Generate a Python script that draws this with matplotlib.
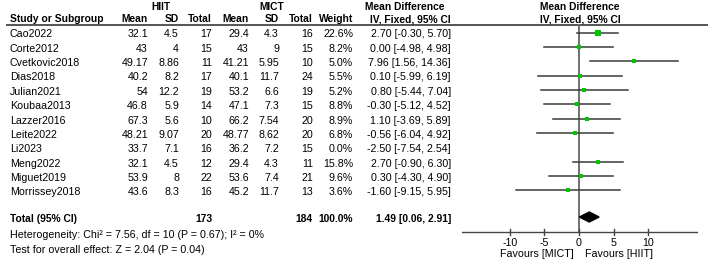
import matplotlib.pyplot as plt

plt.rcParams['font.family'] = ['Liberation Sans', 'DejaVu Sans']

# data
studies = ["Cao2022", "Corte2012", "Cvetkovic2018", "Dias2018", "Julian2021", "Koubaa2013",
           "Lazzer2016", "Leite2022", "Li2023", "Meng2022", "Miguet2019", "Morrissey2018"]
hiit_mean = ["32.1", "43", "49.17", "40.2", "54", "46.8", "67.3", "48.21", "33.7", "32.1", "53.9", "43.6"]
hiit_sd = ["4.5", "4", "8.86", "8.2", "12.2", "5.9", "5.6", "9.07", "7.1", "4.5", "8", "8.3"]
hiit_n = [17, 15, 11, 17, 19, 14, 10, 20, 16, 12, 22, 16]
mict_mean = ["29.4", "43", "41.21", "40.1", "53.2", "47.1", "66.2", "48.77", "36.2", "29.4", "53.6", "45.2"]
mict_sd = ["4.3", "9", "5.95", "11.7", "6.6", "7.3", "7.54", "8.62", "7.2", "4.3", "7.4", "11.7"]
mict_n = [16, 15, 10, 24, 19, 15, 20, 20, 15, 11, 21, 13]
weight = [22.6, 8.2, 5.0, 5.5, 5.2, 8.8, 8.9, 6.8, 0.0, 15.8, 9.6, 3.6]
md = [2.70, 0.00, 7.96, 0.10, 0.80, -0.30, 1.10, -0.56, -2.50, 2.70, 0.30, -1.60]
lo = [-0.30, -4.98, 1.56, -5.99, -5.44, -5.12, -3.69, -6.04, -7.54, -0.90, -4.30, -9.15]
hi = [5.70, 4.98, 14.36, 6.19, 7.04, 4.52, 5.89, 4.92, 2.54, 6.30, 4.90, 5.95]

total_md, total_lo, total_hi = 1.49, 0.06, 2.91
total_hiit, total_mict = 173, 184
hetero = "Heterogeneity: Chi\u00b2 = 7.56, df = 10 (P = 0.67); I\u00b2 = 0%"
overall = "Test for overall effect: Z = 2.04 (P = 0.04)"
ticks = [-10, -5, 0, 5, 10]

W, H = 708, 262
fig = plt.figure(figsize=(W / 100, H / 100), dpi=100)

# text layer in pixel coordinates
tx = fig.add_axes([0, 0, 1, 1])
tx.set_xlim(0, W)
tx.set_ylim(H, 0)
tx.axis('off')

# forest panel, x in mean difference units, y in pixels
ax = fig.add_axes([462 / W, 0, 236 / W, 1])
ax.set_xlim(-16.9, 17.2)
ax.set_ylim(H, 0)
ax.axis('off')

fs = 7.7
fsb = 7.4
row0, step = 32.6, 14.35
total_y = 217
axis_y = 232

def t(x, y, s, ha='right', bold=False):
    tx.text(x, y, s, ha=ha, va='baseline', fontsize=fsb if bold else fs,
            fontweight='bold' if bold else 'normal', color='black')

# headers
t(161, 9.5, "HIIT", ha='center', bold=True)
t(272, 9.5, "MICT", ha='center', bold=True)
t(405, 9.5, "Mean Difference", ha='center', bold=True)
t(580, 9.5, "Mean Difference", ha='center', bold=True)
hy = 22.5
t(10, hy, "Study or Subgroup", ha='left', bold=True)
for x, s in [(148, "Mean"), (179, "SD"), (212, "Total"), (249, "Mean"),
             (279, "SD"), (313, "Total"), (353, "Weight"), (451, "IV, Fixed, 95% CI")]:
    t(x, hy, s, bold=True)
t(580, hy, "IV, Fixed, 95% CI", ha='center', bold=True)
tx.plot([6, W], [25, 25], color='#555555', lw=1.4, solid_capstyle='butt')

# study rows
for i, name in enumerate(studies):
    y = row0 + i * step
    b = y + 4.8
    t(10, b, name, ha='left')
    t(148, b, hiit_mean[i])
    t(179, b, hiit_sd[i])
    t(212, b, str(hiit_n[i]))
    t(249, b, mict_mean[i])
    t(279, b, mict_sd[i])
    t(313, b, str(mict_n[i]))
    t(353, b, "%.1f%%" % weight[i])
    t(451, b, "%.2f [%.2f, %.2f]" % (md[i], lo[i], hi[i]))
    if weight[i] > 0:
        ax.plot([lo[i], hi[i]], [y, y], color='#3a3a3a', lw=1.1, zorder=2)
        side_px = max(3.4, 1.1 * weight[i] ** 0.5)
        ax.plot(md[i], y, marker='s', color='#00c800', mew=0,
                ms=side_px * 0.72, zorder=3)

# total row
b = total_y + 5.3
t(10, b, "Total (95% CI)", ha='left', bold=True)
t(212, b, str(total_hiit), bold=True)
t(313, b, str(total_mict), bold=True)
t(353, b, "100.0%", bold=True)
t(451, b, "%.2f [%.2f, %.2f]" % (total_md, total_lo, total_hi), bold=True)
ax.fill([total_lo, total_md, total_hi, total_md],
        [total_y, total_y - 5, total_y, total_y + 5], color='black', zorder=3)
t(10, 238.5, hetero, ha='left')
t(10, 252.7, overall, ha='left')

# zero line and axis
ax.plot([0, 0], [25, axis_y], color='#707070', lw=1.4, zorder=1)
ax.plot([-16.9, 17.2], [axis_y, axis_y], color='#444444', lw=1.0)
for v in ticks:
    ax.plot([v, v], [axis_y - 3, axis_y + 3], color='#444444', lw=1.0)
    ax.text(v, 245.5, str(v), ha='center', va='baseline', fontsize=fs)
t(574, 257, "Favours [MICT]")
t(585, 257, "Favours [HIIT]", ha='left')

fig.savefig("out.png", dpi=100)
